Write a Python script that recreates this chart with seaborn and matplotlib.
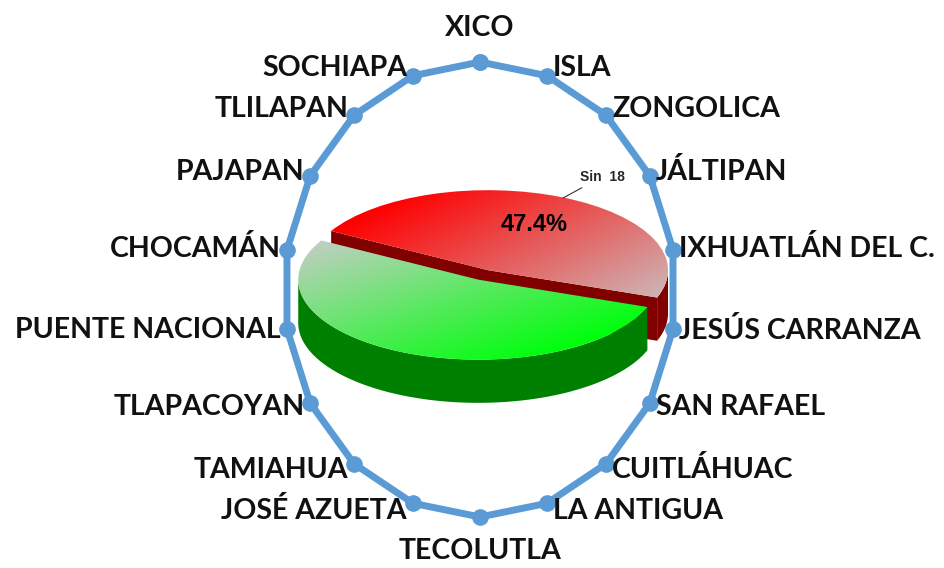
import numpy as np
import matplotlib
matplotlib.use('Agg')
import matplotlib.pyplot as plt
import seaborn as sns
from matplotlib.patches import Polygon

sns.set_theme(style='white')
plt.rcParams['font.family'] = ['Lato', 'DejaVu Sans']

# radar data
municipios = ['XICO', 'ISLA', 'ZONGOLICA', 'JÁLTIPAN', 'IXHUATLÁN DEL C.',
              'JESÚS CARRANZA', 'SAN RAFAEL', 'CUITLÁHUAC', 'LA ANTIGUA',
              'TECOLUTLA', 'JOSÉ AZUETA', 'TAMIAHUA', 'TLAPACOYAN',
              'PUENTE NACIONAL', 'CHOCAMÁN', 'PAJAPAN', 'TLILAPAN', 'SOCHIAPA']
valores = [1, 1, 1, 1, 1, 1, 1, 1, 1, 1, 1, 1, 1, 1, 1, 1, 1, 1]

# pie data
pie_labels = ['Sin  18', '']
pie_values = [47.4, 52.6]

fig = plt.figure(figsize=(9.44, 5.68), dpi=100)
fig.patch.set_facecolor('white')

# ---- radar ----
ax = fig.add_axes([284 / 944, 51 / 568, 392 / 944, 455 / 568], projection='polar')
ax.set_aspect('auto')
ax.set_theta_zero_location('N')
ax.set_theta_direction(-1)
n = len(municipios)
theta = np.deg2rad(np.arange(n) * 360 / n)
sns.lineplot(x=np.append(theta, theta[0]), y=valores + valores[:1], ax=ax,
             sort=False, estimator=None, color='#5B9BD5', lw=5,
             marker='o', markersize=12, markeredgewidth=0, clip_on=False)
ax.set_ylim(0, 1)
ax.axis('off')

px = 72 / 100  # pixels -> points
for i, (lab, t) in enumerate(zip(municipios, theta)):
    elev = np.sin(np.pi / 2 - t)
    if i == 0:
        ha, dx, dy = 'center', 0, 34
    elif i == n // 2:
        ha, dx, dy = 'center', 0, -34
    elif i < n // 2:
        ha, dx, dy = 'left', 6, 8 * elev
    else:
        ha, dx, dy = 'right', -6, 8 * elev
    ax.annotate(lab, xy=(t, valores[i]), xytext=(dx * px, dy * px),
                textcoords='offset points', ha=ha, va='center',
                fontsize=20.5, fontweight='bold', color='#111111',
                annotation_clip=False, zorder=5)

# ---- 3D pie ----
pax = fig.add_axes([248 / 944, 148 / 568, 468 / 944, 248 / 568])
wedges, _ = pax.pie(pie_values, startangle=-20, counterclock=True,
                    explode=[0.08, 0.05], radius=1,
                    wedgeprops=dict(linewidth=0, facecolor='none'))
XL, YL = (-1.3, 1.3), (-1.8, 1.3)
h = 0.54

top_colors = [((1.0, 0.0, 0.0), (0.80, 0.74, 0.74), (0.75, -0.66)),
              ((0.80, 0.80, 0.80), (0.0, 1.0, 0.05), (0.6, -0.8))]
side_colors = ['#800000', '#008000']


def draw_sides(w, color, z):
    cx, cy = w.center
    r = w.r
    t = np.linspace(w.theta1, w.theta2, 400)
    vis = np.sin(np.deg2rad(t)) < 0
    if vis.any():
        tv = np.deg2rad(t[vis])
        xs = cx + r * np.cos(tv)
        ys = cy + r * np.sin(tv)
        pts = np.column_stack([np.r_[xs, xs[::-1]], np.r_[ys, ys[::-1] - h]])
        pax.add_patch(Polygon(pts, closed=True, fc=color, ec='none', zorder=z))
    for a, ok in [(w.theta1, np.cos(np.deg2rad(w.theta1)) > 0),
                  (w.theta2, np.cos(np.deg2rad(w.theta2)) < 0)]:
        if ok:
            ex = cx + r * np.cos(np.deg2rad(a))
            ey = cy + r * np.sin(np.deg2rad(a))
            pts = [(cx, cy), (ex, ey), (ex, ey - h), (cx, cy - h)]
            pax.add_patch(Polygon(pts, closed=True, fc=color, ec='none', zorder=z))


def draw_top(w, c0, c1, d, z):
    xs = np.linspace(*XL, 300)
    ys = np.linspace(*YL, 300)
    X, Y = np.meshgrid(xs, ys)
    s = np.clip((X * d[0] + Y * d[1] + 1) / 2, 0, 1)[..., None]
    img = np.array(c0) * (1 - s) + np.array(c1) * s
    im = pax.imshow(img, extent=(*XL, *YL), origin='lower', aspect='auto',
                    zorder=z, interpolation='bilinear')
    w.set_zorder(z)
    im.set_clip_path(w)


# back (red) slice first, then front (green) slice
for k in [0, 1]:
    draw_sides(wedges[k], side_colors[k], 2 * k + 1)
    c0, c1, d = top_colors[k]
    draw_top(wedges[k], c0, c1, d, 2 * k + 2)

pax.set_aspect('auto')
pax.set_xlim(*XL)
pax.set_ylim(*YL)
pax.axis('off')

pax.text(0.29, 0.64, f'{pie_values[0]:.1f}%', ha='center', va='center',
         fontsize=17, fontweight='bold', family=['Liberation Sans', 'DejaVu Sans'],
         color='black', zorder=10)
pax.annotate(pie_labels[0], xy=(0.45, 0.975), xytext=(0.667, 1.24),
             ha='center', va='center', fontsize=10, fontweight='bold',
             family=['Liberation Sans', 'DejaVu Sans'], zorder=10,
             arrowprops=dict(arrowstyle='-', lw=0.8, color='#333333',
                             shrinkA=1, shrinkB=0))

fig.savefig('out.png', dpi=100, facecolor='white')
